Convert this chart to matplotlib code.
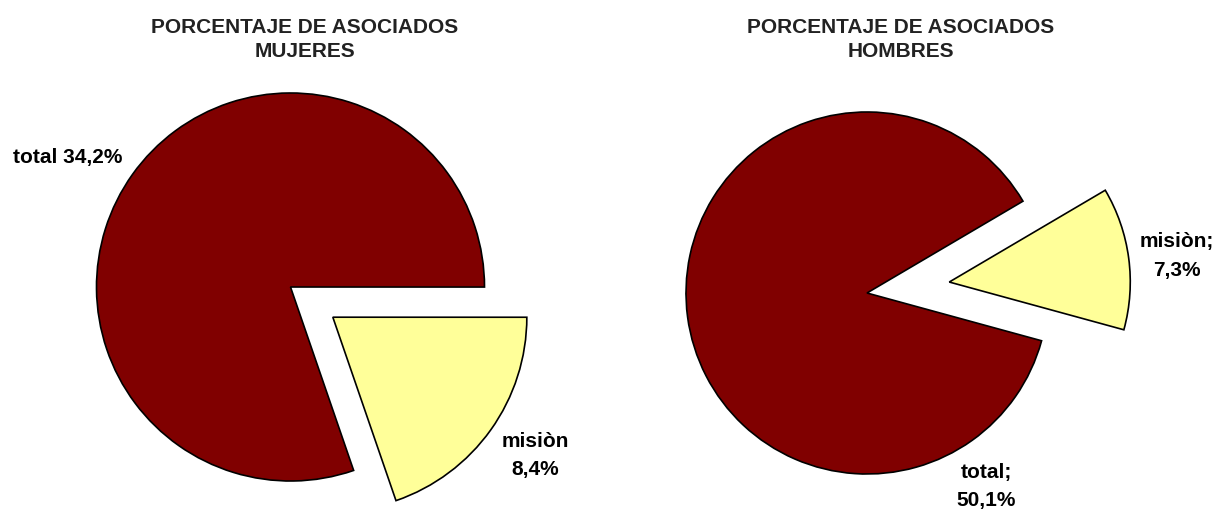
import matplotlib
matplotlib.use("Agg")
import matplotlib.pyplot as plt

# ---- data ----
categories = ["total", "misiòn"]
mujeres = [34.2, 8.4]
hombres = [50.1, 7.3]
titles = ["PORCENTAJE DE ASOCIADOS\nMUJERES", "PORCENTAJE DE ASOCIADOS\nHOMBRES"]

colors = ["#800000", "#FFFF99"]

def fmt(v):
    return f"{v:.1f}%".replace(".", ",")

plt.rcParams['font.family'] = ['Liberation Sans', 'DejaVu Sans']

fig = plt.figure(figsize=(12.28, 5.14), dpi=100)
ax = fig.add_axes([0, 0, 1, 1])

wedge_style = dict(edgecolor="black", linewidth=1.2)

# left pie (Mujeres)
ax.pie(mujeres, colors=colors, explode=[0, 52], startangle=-71,
       counterclock=False, center=(290.5, 227), radius=194,
       wedgeprops=wedge_style)
# right pie (Hombres)
ax.pie(hombres, colors=colors, explode=[0, 83], startangle=-15.3,
       counterclock=False, center=(867, 221), radius=181,
       wedgeprops=wedge_style)

ax.set_xlim(0, 1228)
ax.set_ylim(0, 514)
ax.set_aspect("equal")
ax.axis("off")

tkw = dict(fontsize=15, fontweight="bold", color="#222222", ha="center", va="center")
ax.text(305, 474.5, titles[0], linespacing=1.33, **tkw)
ax.text(901, 474.5, titles[1], linespacing=1.33, **tkw)

lkw = dict(fontsize=15, fontweight="bold", color="black", ha="center", va="center",
           linespacing=1.62)
ax.text(68, 357, f"{categories[0]} {fmt(mujeres[0])}", **lkw)
ax.text(535, 58.5, f"{categories[1]}\n{fmt(mujeres[1])}", **lkw)
ax.text(1177, 258, f"{categories[1]};\n{fmt(hombres[1])}", **lkw)
ax.text(986, 27.5, f"{categories[0]};\n{fmt(hombres[0])}", **lkw)

fig.savefig("out.png", dpi=100, facecolor="white")
